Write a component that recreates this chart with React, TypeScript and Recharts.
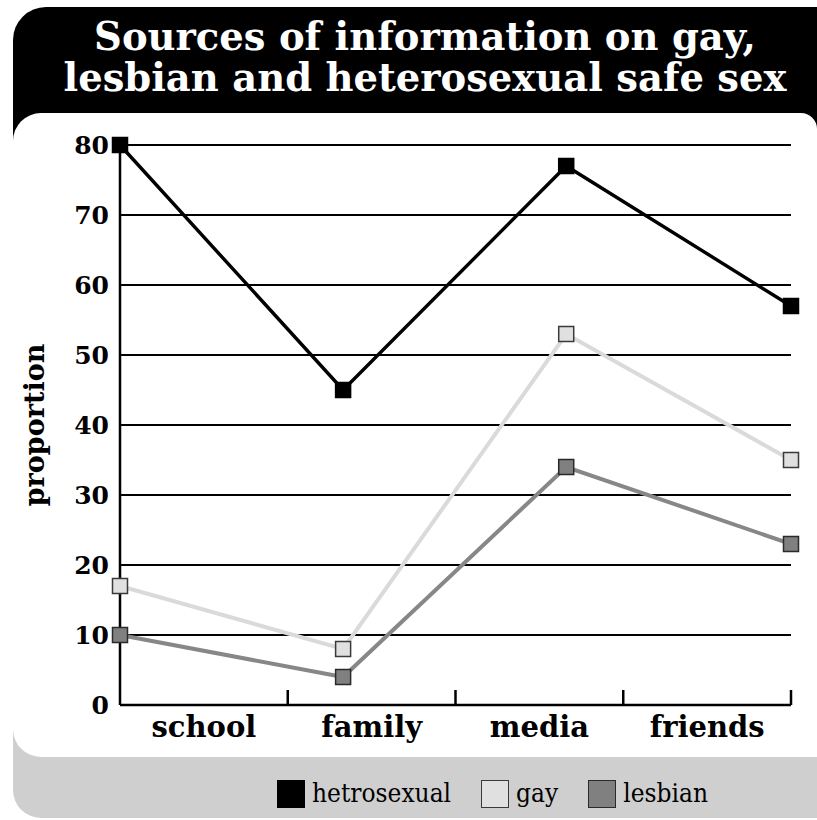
import { CartesianGrid, Line, LineChart, XAxis, YAxis } from "recharts";

const categories = ["school", "family", "media", "friends"];
// where each category's marker sits on the 0..4 axis
const markerPositions = [0, 1.33, 2.66, 4];
const hetrosexual = [80, 45, 77, 57];
const gay = [17, 8, 53, 35];
const lesbian = [10, 4, 34, 23];
const yTicks = [0, 10, 20, 30, 40, 50, 60, 70, 80];
const xTicks = [0, 0.5, 1, 1.5, 2, 2.5, 3, 3.5, 4];

const series = [
  { key: "hetrosexual", label: "hetrosexual", line: "#000000", fill: "#000000", edge: "#000000", width: 3.4 },
  { key: "gay", label: "gay", line: "#dadada", fill: "#e0e0e0", edge: "#3a3a3a", width: 4 },
  { key: "lesbian", label: "lesbian", line: "#878787", fill: "#808080", edge: "#2a2a2a", width: 4 },
];

const data = categories.map((name, i) => ({
  name,
  x: markerPositions[i],
  hetrosexual: hetrosexual[i],
  gay: gay[i],
  lesbian: lesbian[i],
}));

const SERIF = "'DejaVu Serif', 'Liberation Serif', serif";

function CategoryTick(props: any) {
  const { x, y, payload } = props;
  const v = payload.value as number;
  if (Number.isInteger(v)) {
    if (v === 0) return <g />;
    return <line x1={x} x2={x} y1={y} y2={y - 15} stroke="#000" strokeWidth={2.5} />;
  }
  return (
    <text x={x} y={y + 32} textAnchor="middle" fontFamily={SERIF} fontWeight="bold" fontSize={29} fill="#000">
      {categories[Math.floor(v)]}
    </text>
  );
}

function squareDot(fill: string, edge: string, name: string) {
  return (p: any) => (
    <rect
      key={`${name}-${p.index}`}
      x={p.cx - 7.5}
      y={p.cy - 7.5}
      width={15}
      height={15}
      fill={fill}
      stroke={edge}
      strokeWidth={1.5}
    />
  );
}

export default function App() {
  return (
    <div style={{ position: "absolute", left: 0, top: 0, width: 817, height: 820, overflow: "hidden", background: "#fff" }}>
      <div style={{ position: "absolute", left: 13, top: 7, width: 860, height: 220, background: "#000", borderRadius: 33 }} />
      <div style={{ position: "absolute", left: 13, top: 690, width: 860, height: 128, background: "#cfcfcf", borderRadius: 28 }} />
      <div style={{ position: "absolute", left: 13, top: 113, width: 804, height: 644, background: "#fff", borderRadius: "28px 16px 0 28px" }} />
      <div
        style={{
          position: "absolute",
          left: 23,
          top: 16,
          width: 804,
          textAlign: "center",
          color: "#fff",
          fontFamily: SERIF,
          fontWeight: "bold",
          fontSize: 38.5,
          lineHeight: "41px",
        }}
      >
        Sources of information on gay,
        <br />
        lesbian and heterosexual safe sex
      </div>

      <div style={{ position: "absolute", left: 0, top: 0 }}>
        <LineChart width={817} height={820} data={data} margin={{ top: 145, right: 26, bottom: 65, left: 20 }}>
          <CartesianGrid vertical={false} stroke="#000" strokeWidth={2.2} />
          <XAxis
            dataKey="x"
            type="number"
            domain={[0, 4]}
            ticks={xTicks}
            interval={0}
            height={50}
            axisLine={{ stroke: "#000", strokeWidth: 2.5 }}
            tickLine={false}
            tickSize={0}
            tickMargin={0}
            tick={<CategoryTick />}
          />
          <YAxis
            type="number"
            domain={[0, 80]}
            ticks={yTicks}
            interval={0}
            width={100}
            axisLine={{ stroke: "#000", strokeWidth: 2.5 }}
            tickLine={false}
            tickSize={0}
            tickMargin={11}
            tick={{ fontFamily: SERIF, fontWeight: "bold", fontSize: 25, fill: "#000" }}
            label={{
              value: "proportion",
              angle: -90,
              position: "insideLeft",
              offset: 14,
              style: { textAnchor: "middle", fontFamily: SERIF, fontWeight: "bold", fontSize: 27, fill: "#000" },
            }}
          />
          {series.map((s) => (
            <Line
              key={s.key}
              type="linear"
              dataKey={s.key}
              stroke={s.line}
              strokeWidth={s.width}
              dot={squareDot(s.fill, s.edge, s.key)}
              activeDot={false}
              isAnimationActive={false}
            />
          ))}
        </LineChart>
      </div>

      <div
        style={{
          position: "absolute",
          left: 277,
          top: 779,
          display: "flex",
          alignItems: "center",
          fontFamily: "'DejaVu Serif Condensed', 'DejaVu Serif', serif",
          fontSize: 26,
          color: "#000",
        }}
      >
        {series.map((s) => (
          <div key={s.key} style={{ display: "flex", alignItems: "center", marginRight: 30 }}>
            <div style={{ width: 26, height: 26, background: s.fill, border: `1.5px solid ${s.edge}`, marginRight: 7 }} />
            <span style={{ lineHeight: "29px" }}>{s.label}</span>
          </div>
        ))}
      </div>
    </div>
  );
}
